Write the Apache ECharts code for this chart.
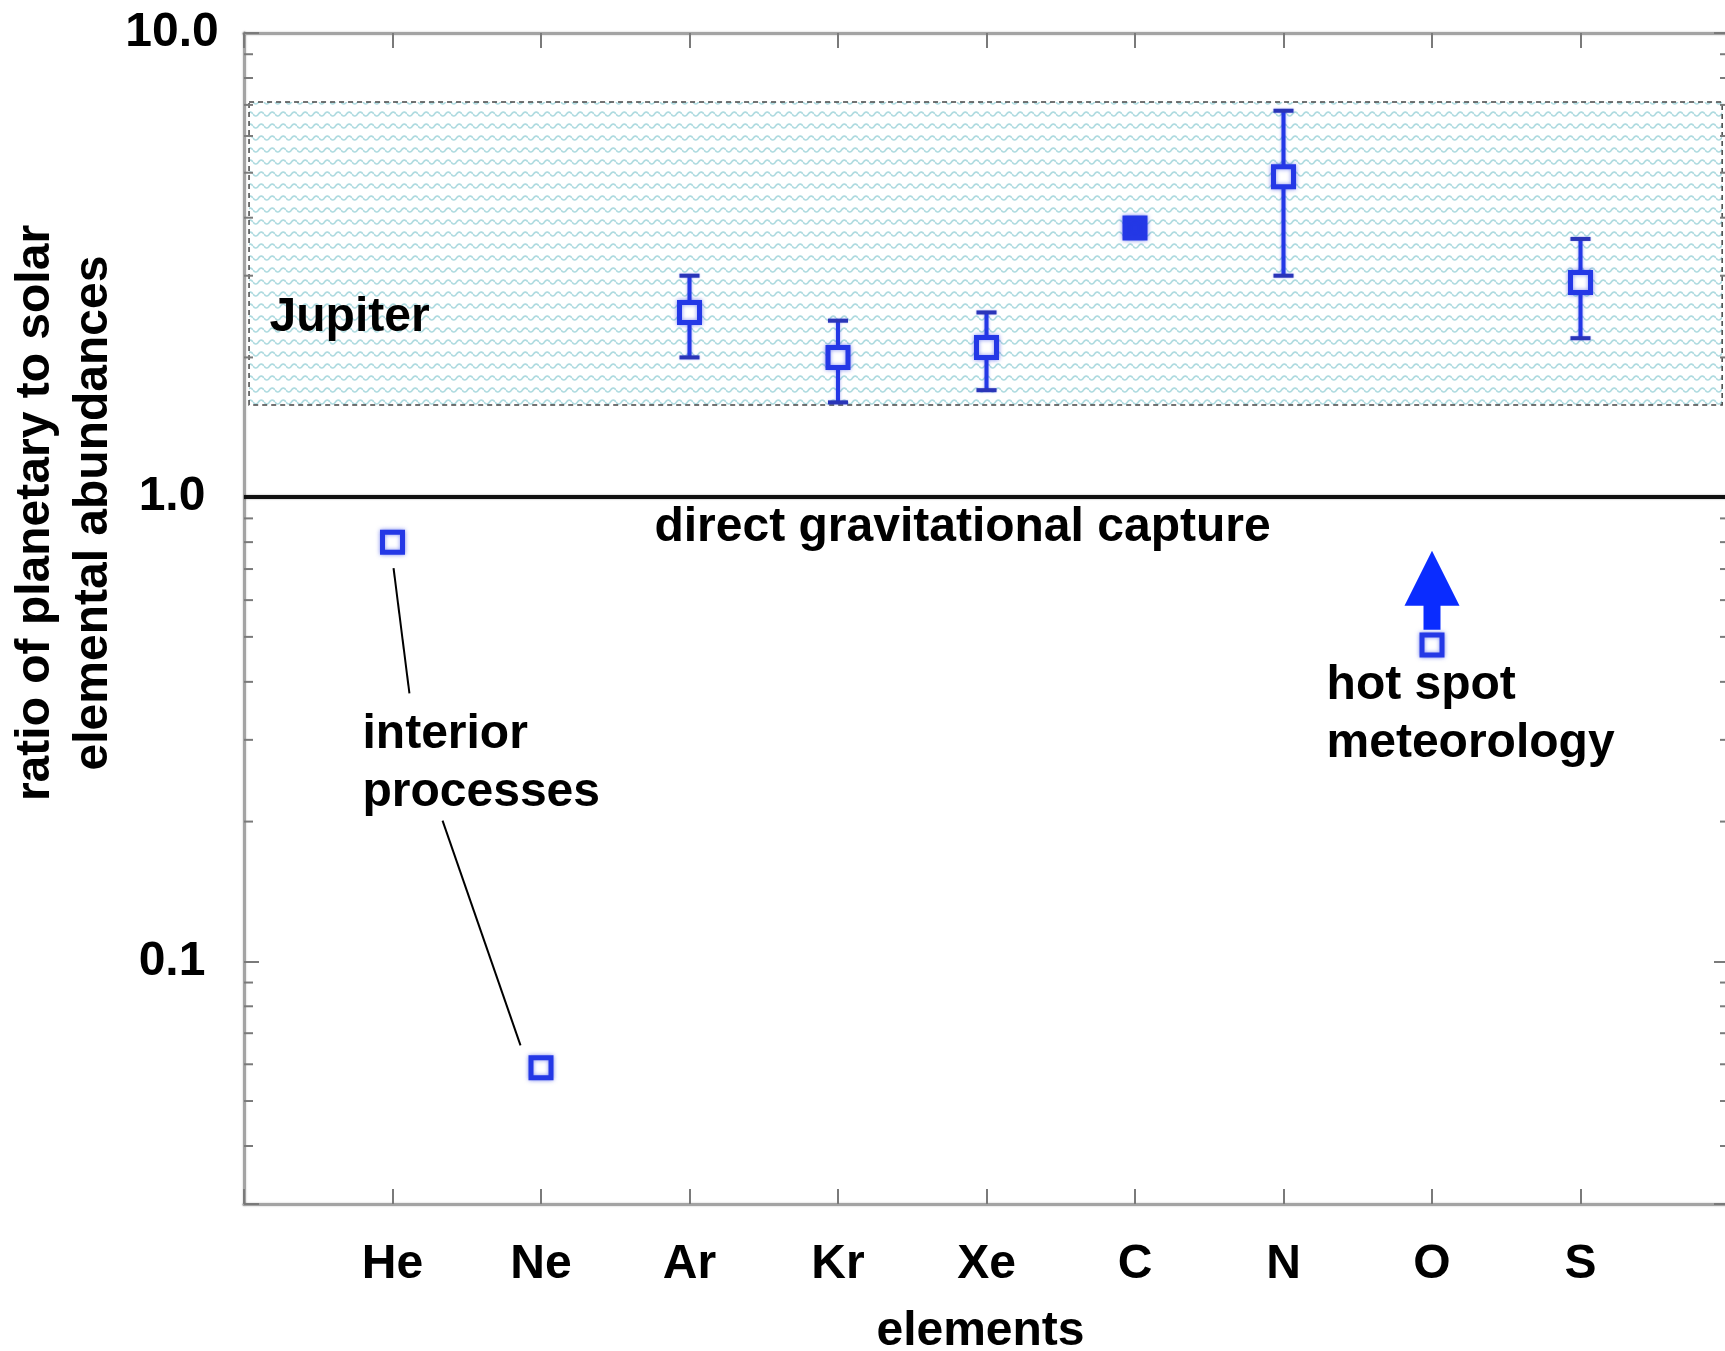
<!DOCTYPE html>
<html>
<head>
<meta charset="utf-8">
<script src="https://cdn.jsdelivr.net/npm/echarts@6/dist/echarts.min.js"></script>
<style>
html,body{margin:0;padding:0;background:#fff;}
#main{width:1725px;height:1351px;}
</style>
</head>
<body>
<div id="main"></div>
<script>
// ---------- data ----------
const elements = ['He', 'Ne', 'Ar', 'Kr', 'Xe', 'C', 'N', 'O', 'S'];
const ratio    = [0.80, 0.059, 2.5, 2.0, 2.1, 3.8, 4.9, 0.48, 2.9];
const errLow   = [null, null, 2.0, 1.6, 1.7, null, 3.0, null, 2.2];
const errHigh  = [null, null, 3.0, 2.4, 2.5, null, 6.8, null, 3.6];
const filled   = [0, 0, 0, 0, 0, 1, 0, 0, 0];
const jupiterBand = [1.58, 7.1];            // Jupiter range (y)
const jupiterBandX = [0.034, 9.954];        // band horizontal extent (x)
const arrowElement = 'O';
const arrowValue = 0.63;
const yTickLabels = [0.1, 1, 10];
const yMinorTicks = [0.04, 0.05, 0.06, 0.07, 0.08, 0.09,
                     0.2, 0.3, 0.4, 0.5, 0.6, 0.7, 0.8, 0.9,
                     2, 3, 4, 5, 6, 7, 8, 9];
const leaderLines = [
  [[1.007, 0.703], [1.114, 0.378]],
  [[1.337, 0.201], [1.862, 0.0659]]
];
const annotations = [
  {text: 'Jupiter', x: 0.172, y: 2.44},
  {text: 'direct gravitational capture', x: 2.764, y: 0.857},
  {text: 'interior processes', x: 0.798, y: 0.267, lines: ['interior', 'processes']},
  {text: 'hot spot meteorology', x: 7.29, y: 0.34, lines: ['hot spot', 'meteorology']}
];

// ---------- helpers ----------
const FONT = '"Liberation Sans", Arial, Helvetica, sans-serif';
const BLUE = '#2438e6';
const FS = 48;

function wavePattern() {
  const c = document.createElement('canvas');
  c.width = 11; c.height = 12;
  const g = c.getContext('2d');
  g.fillStyle = '#ffffff';
  g.fillRect(0, 0, 11, 12);
  g.strokeStyle = '#afdbe0';
  g.lineWidth = 1.7;
  g.beginPath();
  for (let i = 0; i <= 22; i++) {
    const x = i * 0.5;
    const y = 6 + 2 * Math.sin(x / 11 * 2 * Math.PI);
    if (i === 0) g.moveTo(x, y); else g.lineTo(x, y);
  }
  g.stroke();
  return c;
}

const pointData = ratio.map((v, i) => ({
  value: [i + 1, v],
  itemStyle: filled[i] ? {color: BLUE} : {color: '#ffffff'}
}));
const errData = [];
ratio.forEach((v, i) => {
  if (errLow[i] != null) errData.push([i + 1, errLow[i], errHigh[i]]);
});
const minorData = yMinorTicks.map(v => [0, v]);

const axisLineStyle = {color: '#a3a3a3', width: 3, shadowBlur: 2, shadowColor: 'rgba(0,0,0,0.25)'};
const tickStyle = {color: '#7a7a7a', width: 2};

const chart = echarts.init(document.getElementById('main'), null, {renderer: 'canvas'});

const option = {
  animation: false,
  backgroundColor: '#ffffff',
  grid: {left: 244, top: 33, width: 1485, height: 1171, containLabel: false, outerBoundsMode: 'none'},
  xAxis: [
    {
      type: 'value', min: 0, max: 10, interval: 1, position: 'bottom',
      axisLine: {show: true, onZero: false, lineStyle: axisLineStyle},
      axisTick: {show: true, inside: true, length: 15, lineStyle: tickStyle},
      splitLine: {show: false},
      axisLabel: {
        margin: 37, fontSize: FS, fontWeight: 'bold', color: '#000', fontFamily: FONT,
        formatter: v => elements[v - 1] || ''
      },
      name: 'elements', nameLocation: 'middle', nameGap: 104,
      nameTextStyle: {fontSize: FS, fontWeight: 'bold', color: '#000', fontFamily: FONT, padding: [0, 12, 0, 0]}
    },
    {
      type: 'value', min: 0, max: 10, interval: 1, position: 'top',
      axisLine: {show: true, onZero: false, lineStyle: axisLineStyle},
      axisTick: {show: true, inside: true, length: 15, lineStyle: tickStyle},
      splitLine: {show: false},
      axisLabel: {show: false}
    }
  ],
  yAxis: [
    {
      type: 'log', logBase: 10, min: 0.03, max: 10, position: 'left',
      axisLine: {show: true, onZero: false, lineStyle: axisLineStyle},
      axisTick: {show: true, inside: true, length: 15, lineStyle: tickStyle},
      splitLine: {show: false},
      axisLabel: {
        margin: 72, align: 'center', fontSize: FS, fontWeight: 'bold', color: '#000', fontFamily: FONT,
        showMaxLabel: true, showMinLabel: true,
        formatter: v => {
          const hit = yTickLabels.find(t => Math.abs(t - v) / t < 1e-6);
          return hit != null ? hit.toFixed(1) : '';
        }
      }
    },
    {
      type: 'log', logBase: 10, min: 0.03, max: 10, position: 'right',
      axisLine: {show: true, onZero: false, lineStyle: axisLineStyle},
      axisTick: {show: true, inside: true, length: 15, lineStyle: tickStyle},
      splitLine: {show: false},
      axisLabel: {show: false}
    }
  ],
  series: [
    {
      // Jupiter band + 1.0 reference line
      type: 'scatter', data: [], z: 1, silent: true,
      markArea: {
        silent: true,
        itemStyle: {
          color: {image: wavePattern(), repeat: 'repeat'},
          borderColor: '#444', borderWidth: 1.5, borderType: [5, 4]
        },
        data: [[{coord: [jupiterBandX[0], jupiterBand[1]]}, {coord: [jupiterBandX[1], jupiterBand[0]]}]]
      },
      markLine: {
        silent: true, symbol: ['none', 'none'], label: {show: false},
        lineStyle: {color: '#111', width: 4, type: 'solid', shadowBlur: 2, shadowColor: 'rgba(0,0,0,0.4)'},
        data: [{yAxis: 1}]
      }
    },
    {
      // leader lines for annotation
      type: 'scatter', data: [], z: 2, silent: true,
      markLine: {
        silent: true, symbol: ['none', 'none'], label: {show: false},
        lineStyle: {color: '#000', width: 2, type: 'solid'},
        data: leaderLines.map(seg => [{coord: seg[0]}, {coord: seg[1]}])
      }
    },
    {
      // minor ticks on left & right y axes
      type: 'custom', z: 3, silent: true, clip: false,
      data: minorData,
      renderItem: (params, api) => {
        const v = api.value(1);
        const pl = api.coord([0, v]);
        const pr = api.coord([10, v]);
        const st = {stroke: '#7a7a7a', lineWidth: 2};
        return {
          type: 'group',
          children: [
            {type: 'line', shape: {x1: pl[0], y1: pl[1], x2: pl[0] + 9, y2: pl[1]}, style: st},
            {type: 'line', shape: {x1: pr[0], y1: pr[1], x2: pr[0] - 9, y2: pr[1]}, style: st}
          ]
        };
      }
    },
    {
      // error bars
      type: 'custom', z: 4, silent: true,
      data: errData,
      encode: {x: 0, y: [1, 2]},
      renderItem: (params, api) => {
        const x = api.value(0);
        const lo = api.coord([x, api.value(1)]);
        const hi = api.coord([x, api.value(2)]);
        const cap = 10;
        const st = {stroke: BLUE, lineWidth: 4, shadowBlur: 3, shadowColor: 'rgba(36,56,230,0.5)'};
        const capSt = {stroke: '#2a35b8', lineWidth: 4, shadowBlur: 2, shadowColor: 'rgba(36,56,230,0.4)'};
        return {
          type: 'group',
          children: [
            {type: 'line', shape: {x1: lo[0], y1: lo[1], x2: hi[0], y2: hi[1]}, style: st},
            {type: 'line', shape: {x1: lo[0] - cap, y1: lo[1], x2: lo[0] + cap, y2: lo[1]}, style: capSt},
            {type: 'line', shape: {x1: hi[0] - cap, y1: hi[1], x2: hi[0] + cap, y2: hi[1]}, style: capSt}
          ]
        };
      }
    },
    {
      // data points
      type: 'scatter', z: 5, silent: true,
      symbol: 'rect', symbolSize: 20,
      itemStyle: {borderColor: BLUE, borderWidth: 5, opacity: 1, shadowBlur: 4, shadowColor: 'rgba(36,56,230,0.55)'},
      data: pointData
    },
    {
      // upward arrow for O
      type: 'scatter', z: 6, silent: true,
      symbol: 'path://M27.5,0 L55,55 L36,55 L36,79 L19,79 L19,55 L0,55 Z',
      symbolSize: [55, 79],
      itemStyle: {color: '#0a2cff', opacity: 1},
      data: [[elements.indexOf(arrowElement) + 1, arrowValue]]
    }
  ]
};

chart.setOption(option);

// annotations anchored to data coordinates
const textStyleBase = {fontSize: FS, fontWeight: 'bold', fontFamily: FONT, fill: '#000', lineHeight: 58};
const graphics = annotations.map(a => {
  const p = chart.convertToPixel({xAxisIndex: 0, yAxisIndex: 0}, [a.x, a.y]);
  return {
    type: 'text', x: p[0], y: p[1], z: 10, silent: true,
    style: Object.assign({}, textStyleBase, {
      text: a.lines ? a.lines.join('\n') : a.text,
      align: 'left', verticalAlign: 'middle'
    })
  };
});
graphics.push({
  type: 'text', x: 65, y: 513, rotation: Math.PI / 2, z: 10, silent: true,
  style: Object.assign({}, textStyleBase, {
    text: 'ratio of planetary to solar\nelemental abundances',
    align: 'center', verticalAlign: 'middle'
  })
});
chart.setOption({graphic: graphics});
</script>
</body>
</html>
